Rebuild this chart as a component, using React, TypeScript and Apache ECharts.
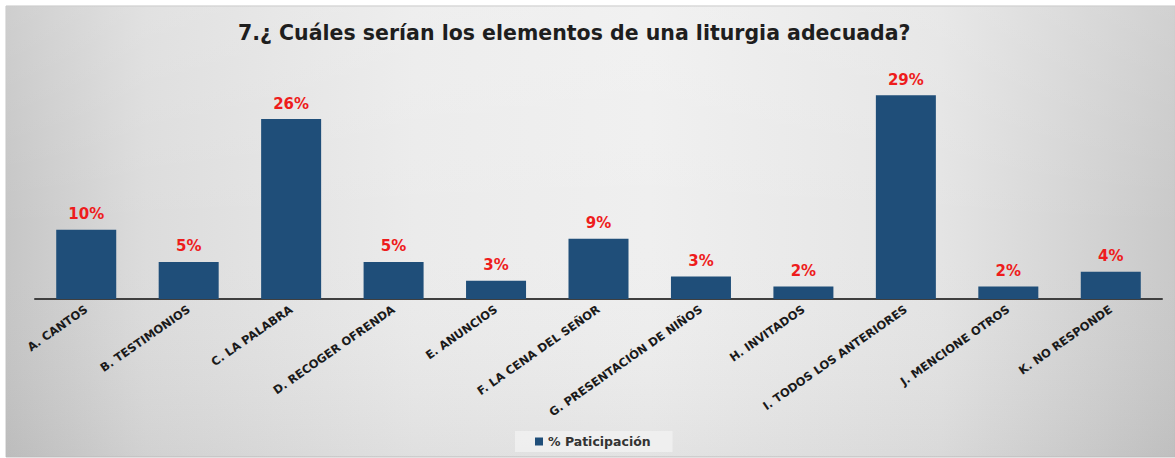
import React, { useEffect, useRef } from "react";
import * as echarts from "echarts";

const titleText = "7.¿ Cuáles serían los elementos de una liturgia adecuada?";
const seriesName = "% Paticipación";
const categories = [
  "A. CANTOS",
  "B. TESTIMONIOS",
  "C. LA PALABRA",
  "D. RECOGER OFRENDA",
  "E. ANUNCIOS",
  "F. LA CENA DEL SEÑOR",
  "G. PRESENTACIÓN DE NIÑOS",
  "H. INVITADOS",
  "I. TODOS LOS ANTERIORES",
  "J. MENCIONE OTROS",
  "K. NO RESPONDE",
];
const values = [9.9, 5.3, 25.7, 5.3, 2.6, 8.6, 3.2, 1.8, 29.1, 1.8, 3.9];

export default function App() {
  const ref = useRef<HTMLDivElement>(null);
  useEffect(() => {
    if (!ref.current) return;
    const chart = echarts.init(ref.current, undefined, { renderer: "svg" });
    const font = "'DejaVu Sans', 'Open Sans', sans-serif";
    chart.setOption({
      animation: false,
      graphic: [
        {
          type: "rect",
          z: -10,
          silent: true,
          shape: { x: 6, y: 6, width: 1169, height: 451 },
          style: {
            fill: new echarts.graphic.LinearGradient(0, 0, 1, 0, [
              { offset: 0, color: "#c6c6c6" },
              { offset: 0.12, color: "#dcdcdc" },
              { offset: 0.35, color: "#ebebeb" },
              { offset: 0.55, color: "#efefef" },
              { offset: 0.8, color: "#e4e4e4" },
              { offset: 1, color: "#c9c9c9" },
            ]),
            stroke: "#c4c4c4",
            lineWidth: 1,
          },
        },
        {
          type: "rect",
          z: -9,
          silent: true,
          shape: { x: 6, y: 6, width: 1169, height: 451 },
          style: {
            fill: new echarts.graphic.LinearGradient(0, 0, 0, 1, [
              { offset: 0, color: "rgba(255,255,255,0.15)" },
              { offset: 0.5, color: "rgba(255,255,255,0)" },
              { offset: 1, color: "rgba(0,0,0,0.05)" },
            ]),
          },
        },
      ],
      title: {
        text: titleText,
        left: 233,
        top: 17,
        textStyle: {
          fontFamily: font,
          fontWeight: "bold",
          fontSize: 20.5,
          color: "#1e1e1e",
        },
      },
      legend: {
        data: [seriesName],
        left: 515,
        top: 431,
        icon: "rect",
        itemWidth: 8,
        itemHeight: 8,
        itemGap: 4,
        padding: [4, 22, 4, 20],
        backgroundColor: "rgba(240,240,240,0.9)",
        textStyle: {
          fontFamily: font,
          fontWeight: "bold",
          fontSize: 12.5,
          color: "#333333",
        },
      },
      grid: { left: 35, right: 13, top: 54, bottom: 159, containLabel: false },
      xAxis: {
        type: "category",
        data: categories,
        axisLine: { show: true, lineStyle: { color: "#3f3f3f", width: 2 } },
        axisTick: { show: false },
        axisLabel: {
          interval: 0,
          rotate: 35,
          margin: 9,
          fontFamily: font,
          fontWeight: "bold",
          fontSize: 11.5,
          color: "#1a1a1a",
        },
      },
      yAxis: {
        type: "value",
        min: 0,
        max: 35,
        show: false,
        splitLine: { show: false },
      },
      series: [
        {
          name: seriesName,
          type: "bar",
          data: values,
          barWidth: 60,
          itemStyle: { color: "#1f4e79" },
          label: {
            show: true,
            position: "top",
            distance: 8,
            formatter: (p: any) => Math.round(p.value) + "%",
            fontFamily: font,
            fontWeight: "bold",
            fontSize: 15,
            color: "#ee1c1c",
          },
        },
      ],
    });
    return () => chart.dispose();
  }, []);
  return (
    <div
      ref={ref}
      style={{ position: "fixed", left: 0, top: 0, width: 1175, height: 458, background: "#ffffff" }}
    />
  );
}
